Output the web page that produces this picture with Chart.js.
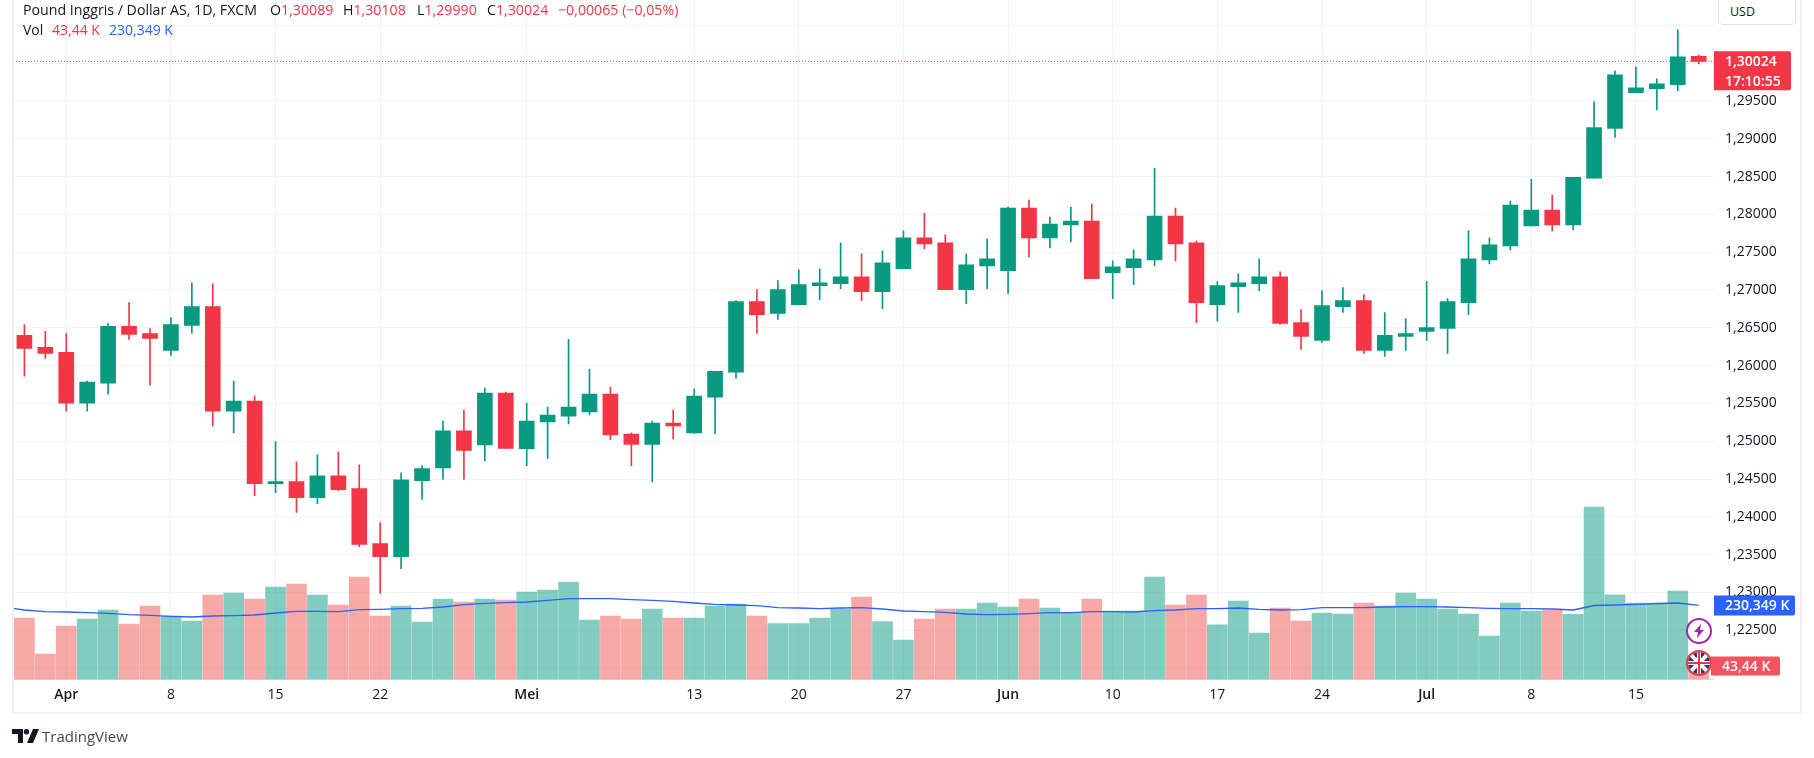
<!DOCTYPE html>
<html lang="id">
<head>
    <meta charset="UTF-8">
    <title>Pound Inggris / Dollar AS, 1D, FXCM</title>
    <script src="https://cdn.jsdelivr.net/npm/chart.js"></script>
    <style>
        html, body { margin: 0; padding: 0; background: #fff; }
        body { width: 1814px; height: 758px; overflow: hidden; position: relative; font-family: "Open Sans", sans-serif; color: #131722; }
        canvas { position: absolute; left: 0; top: 0; }
        .legend { position: absolute; left: 23px; font-size: 14.2px; white-space: pre; line-height: 20px; }
        .legend span { position: absolute; top: 0; }
        .red { color: #f23645; }
        .blue { color: #2962ff; }
        #usd { position: absolute; left: 1718px; top: -6px; width: 78px; height: 31px; border: 1px solid #e0e3eb; border-radius: 5px; font-size: 12.5px; line-height: 33px; padding-left: 11px; box-sizing: border-box; background: #fff; }
        #logo { position: absolute; left: 12px; top: 729px; }
        #brand { position: absolute; left: 42px; top: 726px; font-size: 15px; line-height: 20px; color: #434651; }
    </style>
</head>
<body>
    <canvas id="chart" width="1814" height="758"></canvas>

    <div class="legend" style="top:0">
        <span style="left:0">Pound Inggris / Dollar AS, 1D, FXCM</span>
        <span style="left:247px">O<b class="red" style="font-weight:400">1,30089</b></span>
        <span style="left:320px">H<b class="red" style="font-weight:400">1,30108</b></span>
        <span style="left:394px">L<b class="red" style="font-weight:400">1,29990</b></span>
        <span style="left:464px">C<b class="red" style="font-weight:400">1,30024</b></span>
        <span style="left:535px" class="red">−0,00065 (−0,05%)</span>
    </div>
    <div class="legend" style="top:20px; font-size:14px">
        <span style="left:0">Vol</span>
        <span style="left:29px" class="red">43,44 K</span>
        <span style="left:86px" class="blue">230,349 K</span>
    </div>
    <div id="usd">USD</div>

    <svg id="logo" width="27" height="15" viewBox="0 0 27 15">
        <path d="M0 0h11v14H6V5H0z M21 0h6l-6 14h-6z" fill="#131722"/>
        <circle cx="14.5" cy="2.7" r="2.7" fill="#131722"/>
    </svg>
    <div id="brand">TradingView</div>

    <script>
        // Daily candles, index 0 = 28 Mar, last = 18 Jul
        const opens = [1.26399,1.26241,1.26175,1.25504,1.25768,1.26518,1.26425,1.26202,1.26531,1.26781,
            1.25399,1.25531,1.24439,1.24465,1.24254,1.24544,1.24373,1.23647,1.23475,1.24480,
            1.24646,1.25136,1.24950,1.25636,1.24903,1.25254,1.25333,1.25386,1.25623,1.25096,
            1.24957,1.25241,1.25110,1.25583,1.25912,1.26846,1.26689,1.26807,1.27057,1.27083,
            1.27175,1.26978,1.27281,1.27689,1.27623,1.27004,1.27320,1.27254,1.28083,1.27689,
            1.27860,1.27912,1.27228,1.27294,1.27399,1.27978,1.27623,1.26807,1.27044,1.27083,
            1.27175,1.26570,1.26333,1.26781,1.26860,1.26202,1.26386,1.26452,1.26491,1.26833,
            1.27399,1.27583,1.27846,1.28057,1.27860,1.28478,1.29136,1.29610,1.29662,1.29715,1.30089];
        const highs = [1.26544,1.26452,1.26425,1.25794,1.26557,1.26833,1.26491,1.26636,1.27096,1.27083,
            1.25794,1.25596,1.24991,1.24728,1.24820,1.24860,1.24689,1.23925,1.24583,1.24678,
            1.25268,1.25412,1.25702,1.25649,1.25504,1.25452,1.26346,1.25952,1.25715,1.25110,
            1.25268,1.25412,1.25689,1.25925,1.26860,1.27004,1.27123,1.27268,1.27281,1.27623,
            1.27478,1.27518,1.27781,1.28018,1.27728,1.27478,1.27675,1.28096,1.28189,1.27965,
            1.28096,1.28136,1.27386,1.27531,1.28610,1.28083,1.27649,1.27110,1.27215,1.27412,
            1.27241,1.26741,1.26991,1.27031,1.26939,1.26702,1.26623,1.27110,1.26886,1.27781,
            1.27689,1.28175,1.28465,1.28254,1.28491,1.29491,1.29899,1.29952,1.29794,1.30439,1.30108];
        const lows = [1.25860,1.26096,1.25399,1.25399,1.25623,1.26346,1.25741,1.26136,1.26425,1.25202,
            1.25110,1.24281,1.24320,1.24057,1.24175,1.24347,1.23607,1.22986,1.23316,1.24229,
            1.24494,1.24494,1.24738,1.24906,1.24678,1.24771,1.25228,1.25347,1.25020,1.24678,
            1.24463,1.25031,1.25103,1.25096,1.25833,1.26425,1.26610,1.26807,1.26873,1.27018,
            1.26860,1.26754,1.27281,1.27544,1.27004,1.26820,1.27018,1.26952,1.27439,1.27557,
            1.27636,1.27149,1.26886,1.27070,1.27320,1.27386,1.26568,1.26587,1.26702,1.26991,
            1.26544,1.26215,1.26307,1.26702,1.26162,1.26123,1.26202,1.26333,1.26162,1.26675,
            1.27346,1.27531,1.27846,1.27781,1.27794,1.28478,1.29018,1.29610,1.29386,1.29636,1.29990];
        const closes = [1.26228,1.26162,1.25504,1.25781,1.26518,1.26412,1.26360,1.26544,1.26781,1.25399,
            1.25531,1.24439,1.24465,1.24254,1.24544,1.24360,1.23634,1.23475,1.24491,1.24639,
            1.25136,1.24877,1.25636,1.24906,1.25268,1.25347,1.25452,1.25623,1.25083,1.24957,
            1.25241,1.25202,1.25597,1.25925,1.26846,1.26675,1.27004,1.27070,1.27096,1.27175,
            1.26978,1.27360,1.27689,1.27610,1.27004,1.27333,1.27412,1.28083,1.27689,1.27873,
            1.27912,1.27149,1.27307,1.27412,1.27978,1.27610,1.26833,1.27057,1.27096,1.27175,
            1.26557,1.26386,1.26794,1.26860,1.26202,1.26399,1.26425,1.26504,1.26846,1.27412,
            1.27596,1.28123,1.28057,1.27860,1.28491,1.29149,1.29846,1.29675,1.29728,1.30083,1.30024];
        // Volume in thousands
        const volumes = [191.3,79.3,166.4,188.2,216.2,172.6,228.6,197.5,182,262.8,
            269,250.4,287.7,297,262.8,231.7,318.8,197.5,228.6,178.9,
            250.4,241.1,250.4,247.3,272,278.4,303,185,197.5,188,
            219.3,191.3,191.3,228.6,234.8,197.5,174,174,191.3,219.3,
            256.6,180,122.8,188.2,219.3,219.3,238,225.5,250.4,222.4,
            206.8,250.4,213,213,318.8,231.7,262.8,170,244.2,144.6,
            222.4,182,206.8,203.7,238,228.6,269,250.4,219.3,203.7,
            135.3,238,213,216,203,536.5,263,238,235,275,43.44];
        const volumeMA = [216.2,211,210,207.9,205.9,201.7,199.6,196.5,194.4,197.5,
            198.5,200.6,206.8,212,212,211,217.1,218.2,220.4,221.4,
            225.5,232.7,237,238.9,241,246.3,251.3,251.3,251.3,248.2,
            246.3,243.2,237.9,233.9,231.7,229.5,223.3,222.4,220.4,222.4,
            223.3,219.3,213,211,209,203.7,201.7,202.8,204.7,207.8,
            207.8,211,211,210,214,216.2,220.4,220.4,222.4,218.2,
            216.2,217.1,223.3,223.3,223.3,225.5,226.4,226.4,225.5,223.3,
            221.4,220.4,220.4,219.3,216.2,230.2,231.7,233.9,236.4,238,230.349];
        // MA value where the line enters at the left edge
        const volumeMAEntry = 221;

        // X axis labels sit on these candle indexes
        const tickIndexes = [2,7,12,17,24,32,37,42,47,52,57,62,67,72,77];
        const tickLabels = ['Apr','8','15','22','Mei','13','20','27','Jun','10','17','24','Jul','8','15'];
        const monthLabels = ['Apr','Mei','Jun','Jul'];

        const UP = '#089981', DOWN = '#f23645';
        const UP_VOL = 'rgba(8,153,129,0.5)', DOWN_VOL = 'rgba(239,83,80,0.5)';
        const FONT = '"Open Sans", sans-serif';

        const lastClose = closes[closes.length - 1];
        const lastVolume = volumes[volumes.length - 1];
        const lastMA = volumeMA[volumeMA.length - 1];

        const isUp = i => closes[i] >= opens[i];
        const candleColors = opens.map((o, i) => isUp(i) ? UP : DOWN);
        const volumeColors = opens.map((o, i) => isUp(i) ? UP_VOL : DOWN_VOL);

        const xMin = -0.545, xMax = 80.73;

        function tag(ctx, left, top, width, height, color, lines) {
            ctx.fillStyle = color;
            ctx.beginPath();
            ctx.roundRect(left, top, width, height, [0, 2, 2, 0]);
            ctx.fill();
            ctx.fillStyle = '#fff';
            ctx.font = '600 14px ' + FONT;
            ctx.textAlign = 'left';
            ctx.textBaseline = 'middle';
            const step = height / lines.length;
            lines.forEach((line, n) => ctx.fillText(line, left + 11, top + step * (n + 0.5) + 1));
        }

        function drawLightning(ctx, x, y) {
            ctx.save();
            ctx.fillStyle = '#fff';
            ctx.strokeStyle = '#9c27b0';
            ctx.lineWidth = 2;
            ctx.beginPath();
            ctx.arc(x, y, 12, 0, Math.PI * 2);
            ctx.fill();
            ctx.stroke();
            ctx.fillStyle = '#9c27b0';
            ctx.beginPath();
            ctx.moveTo(x + 2, y - 7);
            ctx.lineTo(x - 5, y + 1);
            ctx.lineTo(x - 1, y + 1);
            ctx.lineTo(x - 2, y + 7);
            ctx.lineTo(x + 5, y - 1);
            ctx.lineTo(x + 1, y - 1);
            ctx.closePath();
            ctx.fill();
            ctx.restore();
        }

        function drawFlag(ctx, x, y) {
            ctx.save();
            ctx.beginPath();
            ctx.arc(x, y, 11, 0, Math.PI * 2);
            ctx.fillStyle = '#fff';
            ctx.fill();
            ctx.clip();
            ctx.fillStyle = '#1f3a7a';
            ctx.fillRect(x - 11, y - 11, 22, 22);
            ctx.strokeStyle = '#fff';
            ctx.lineWidth = 4;
            ctx.beginPath();
            ctx.moveTo(x - 11, y - 11); ctx.lineTo(x + 11, y + 11);
            ctx.moveTo(x + 11, y - 11); ctx.lineTo(x - 11, y + 11);
            ctx.moveTo(x, y - 11); ctx.lineTo(x, y + 11);
            ctx.moveTo(x - 11, y); ctx.lineTo(x + 11, y);
            ctx.stroke();
            ctx.strokeStyle = '#e53945';
            ctx.lineWidth = 2;
            ctx.beginPath();
            ctx.moveTo(x, y - 11); ctx.lineTo(x, y + 11);
            ctx.moveTo(x - 11, y); ctx.lineTo(x + 11, y);
            ctx.stroke();
            ctx.restore();
            ctx.strokeStyle = '#f23645';
            ctx.lineWidth = 2;
            ctx.beginPath();
            ctx.arc(x, y, 12, 0, Math.PI * 2);
            ctx.stroke();
        }

        // Frame lines, axis tags and the two round icons
        const overlayPlugin = {
            id: 'overlay',
            afterDraw(chart) {
                const ctx = chart.ctx;
                const area = chart.chartArea;
                const py = chart.scales.y.getPixelForValue(lastClose);
                const vy = chart.scales.volume.getPixelForValue(lastMA);
                const ly = chart.scales.volume.getPixelForValue(lastVolume);
                ctx.save();
                ctx.fillStyle = '#eeeef4';
                ctx.fillRect(area.left - 1, 0, 2, 713);
                ctx.fillRect(1800, 0, 2, 713);
                ctx.fillRect(12, 712, 1790, 1.5);
                tag(ctx, area.right, py - 10, 77, 39, DOWN, ['1,30024', '17:10:55']);
                tag(ctx, area.right, vy - 10, 81, 20, '#2962ff', ['230,349 K']);
                drawLightning(ctx, 1699, 631);
                drawFlag(ctx, 1699, 663);
                tag(ctx, 1711, ly - 9, 69, 19, '#f7525f', ['43,44 K']);
                ctx.restore();
            }
        };

        new Chart(document.getElementById('chart'), {
            type: 'bar',
            data: {
                datasets: [
                    {
                        label: 'Body',
                        data: opens.map((o, i) => ({ x: i, y: [o, closes[i]] })),
                        backgroundColor: candleColors,
                        barThickness: 15,
                        grouped: false,
                        yAxisID: 'y',
                        order: 1
                    },
                    {
                        label: 'Wick',
                        data: highs.map((h, i) => ({ x: i, y: [lows[i], h] })),
                        backgroundColor: candleColors,
                        barThickness: 1,
                        grouped: false,
                        yAxisID: 'y',
                        order: 2
                    },
                    {
                        type: 'line',
                        label: 'Last',
                        data: [{ x: xMin, y: lastClose }, { x: xMax, y: lastClose }],
                        borderColor: DOWN,
                        borderWidth: 1,
                        borderDash: [1, 2],
                        pointRadius: 0,
                        yAxisID: 'y',
                        order: 3
                    },
                    {
                        type: 'line',
                        label: 'Vol MA',
                        data: [{ x: xMin, y: volumeMAEntry }].concat(volumeMA.map((v, i) => ({ x: i, y: v }))),
                        borderColor: '#2962ff',
                        borderWidth: 1.3,
                        pointRadius: 0,
                        yAxisID: 'volume',
                        order: 4
                    },
                    {
                        label: 'Vol',
                        data: volumes.map((v, i) => ({ x: i, y: v })),
                        backgroundColor: volumeColors,
                        barThickness: 20,
                        grouped: false,
                        yAxisID: 'volume',
                        order: 5
                    }
                ]
            },
            options: {
                responsive: false,
                animation: false,
                layout: { padding: { left: 13, right: 14, top: 0, bottom: 45 } },
                plugins: { legend: { display: false }, tooltip: { enabled: false } },
                scales: {
                    x: {
                        type: 'linear',
                        offset: false,
                        min: xMin,
                        max: xMax,
                        afterBuildTicks: axis => { axis.ticks = tickIndexes.map(v => ({ value: v })); },
                        afterFit: axis => { axis.height = 33.5; axis.paddingLeft = 0; axis.paddingRight = 0; },
                        grid: { offset: false, color: '#f0f1f5', drawTicks: false },
                        border: { color: '#e0e3eb' },
                        ticks: {
                            autoSkip: false,
                            maxRotation: 0,
                            padding: 7,
                            color: '#131722',
                            font: ctx => {
                                const label = ctx.tick ? tickLabels[tickIndexes.indexOf(ctx.tick.value)] : '';
                                return { family: FONT, size: 14, weight: monthLabels.includes(label) ? '600' : '400' };
                            },
                            callback: value => tickLabels[tickIndexes.indexOf(value)]
                        }
                    },
                    y: {
                        position: 'right',
                        min: 1.21849,
                        max: 1.30835,
                        afterFit: axis => { axis.width = 86; axis.paddingTop = 0; axis.paddingBottom = 0; },
                        grid: { color: '#f2f3f5', drawTicks: false },
                        border: { display: false },
                        ticks: {
                            stepSize: 0.005,
                            includeBounds: false,
                            padding: 11,
                            color: '#131722',
                            font: { family: FONT, size: 14 },
                            callback: value => value > 1.2975 ? '' : value.toFixed(5).replace('.', ',')
                        }
                    },
                    volume: {
                        display: false,
                        min: 0,
                        max: 2113.5
                    }
                }
            },
            plugins: [overlayPlugin]
        });
    </script>
</body>
</html>
